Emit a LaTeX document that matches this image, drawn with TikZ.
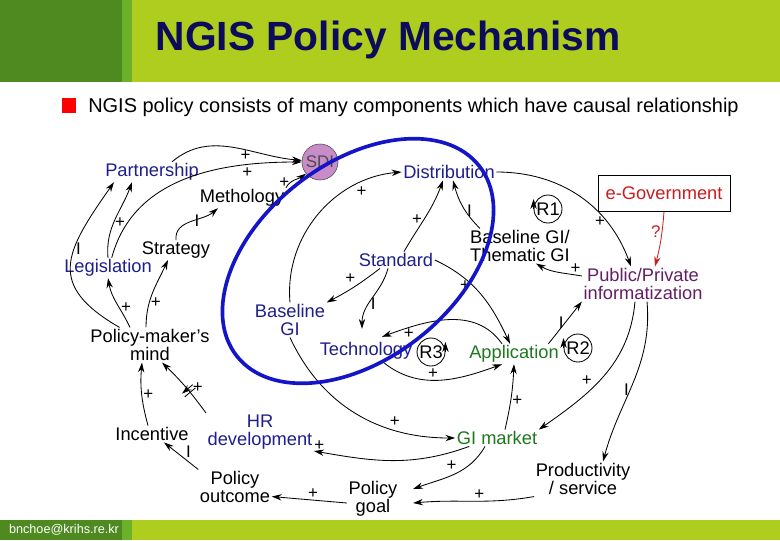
\documentclass[tikz,border=0pt]{standalone}
\usepackage{fontspec}
\setmainfont{Liberation Sans}
\usepackage{tikz}
\usetikzlibrary{arrows.meta,positioning,decorations.markings}
\usepackage{xcolor}
\definecolor{bandgreen}{RGB}{174,205,30}
\definecolor{darkgreen}{RGB}{78,138,31}
\definecolor{midgreen}{RGB}{108,177,42}
\definecolor{titlenavy}{RGB}{12,12,90}
\definecolor{varblue}{RGB}{30,30,140}
\definecolor{vargreen}{RGB}{30,120,30}
\definecolor{varpurple}{RGB}{100,30,100}
\definecolor{varred}{RGB}{200,30,30}
\definecolor{sdifill}{RGB}{200,140,200}
\definecolor{ringblue}{RGB}{20,20,200}

\begin{document}
\begin{tikzpicture}[
      x=0.025cm, y=-0.025cm,
      var/.style={font=\fontsize{13}{13}\selectfont, align=center, inner sep=1pt},
      link/.style={-{Stealth[length=7pt,width=4.5pt]}, line width=0.6pt},
      sign/.style={font=\fontsize{12}{12}\selectfont, inner sep=0.8pt},
      loopmark/.style={circle, draw, line width=0.6pt, inner sep=0pt, minimum size=0.7cm, font=\fontsize{13}{13}\selectfont},
      delay/.style={postaction={decorate}, decoration={markings, mark=at position #1 with {\draw[line width=0.6pt] (-1.5pt,-5pt) -- (-1.5pt,5pt) (1.5pt,-5pt) -- (1.5pt,5pt);}}}
    ]
    \useasboundingbox (0,0) rectangle (780,540);
    % Header and footer bands
    \fill[bandgreen] (0,0) rectangle (780,82);
    \fill[darkgreen] (0,0) rectangle (122,82);
    \fill[midgreen] (122,0) rectangle (132,82);
    \fill[bandgreen] (0,520) rectangle (780,540);
    \fill[darkgreen] (0,520) rectangle (122,540);
    \fill[midgreen] (122,520) rectangle (132,540);
    \node[font=\fontsize{29}{30}\selectfont\bfseries, text=titlenavy] (title) at (388,40) {NGIS Policy Mechanism};
    \node[font=\fontsize{9}{10}\selectfont, text=white] (mail) at (64,530) {bnchoe@krihs.re.kr};
    \fill[red] (62,98) rectangle (76,113);
    \node[font=\fontsize{14.2}{15}\selectfont, anchor=west, inner sep=0pt] (intro) at (88,107) {NGIS policy consists of many components which have causal relationship};

    % Variables
    \node[var, text=varblue] (partner) at (152,172) {Partnership};
    \node[circle, draw=black!70, fill=sdifill, minimum size=0.9cm, inner sep=0pt, font=\fontsize{12}{12}\selectfont, text=black!70] (sdi) at (320,162) {SDI};
    \node[var, text=varblue] (distrib) at (449,172) {Distribution};
    \node[var, text=varred, draw=black, line width=0.6pt, minimum width=3.3cm, minimum height=0.9cm] (egov) at (664,193) {e-Government};
    \node[var] (method) at (242,198) {Methology};
    \node[var] (basethem) at (520,246) {Baseline GI/\\Thematic GI};
    \node[var] (strategy) at (176,250) {Strategy};
    \node[var, text=varblue] (legis) at (108,268) {Legislation};
    \node[var, text=varblue] (standard) at (396,260) {Standard};
    \node[var, text=varpurple] (pubpriv) at (643,284) {Public/Private\\informatization};
    \node[var, text=varblue] (basegi) at (290,320) {Baseline\\GI};
    \node[var] (pmmind) at (150,345) {Policy-maker's\\mind};
    \node[var, text=varblue] (tech) at (366,351) {Technology};
    \node[var, text=vargreen] (appl) at (514,354) {Application};
    \node[var, text=varblue] (hrdev) at (260,432) {HR\\development};
    \node[var] (incent) at (152,434) {Incentive};
    \node[var, text=vargreen] (gimarket) at (497,438) {GI market};
    \node[var] (poutcome) at (235,487) {Policy\\outcome};
    \node[var] (product) at (583,479) {Productivity\\/ service};
    \node[var] (pgoal) at (373,499) {Policy\\goal};
    % Loop markers
    \node[loopmark] (rone) at (548,209) {R1};
    \node[loopmark] (rtwo) at (578,348) {R2};
    \node[loopmark] (rthree) at (431,352) {R3};
    \draw[link] (rone.west) -- ([yshift=0.25cm]rone.west);
    \draw[link] (rtwo.west) -- ([yshift=0.25cm]rtwo.west);
    \draw[link] (rthree.east) -- ([yshift=0.25cm]rthree.east);

    % Causal links
    \draw[link] (pmmind.150) to[out=150, in=235, looseness=1.5] node[sign, pos=0.62, right]{I} ([xshift=-0.95cm]partner.south);
    \draw[link] (legis.north) to[out=95, in=250] node[sign, pos=0.45, right]{+} ([xshift=-0.5cm]partner.south);
    \draw[link] ([xshift=0.5cm]partner.north) to[out=40, in=175] node[sign, pos=0.6, below]{+} (sdi.175);
    \draw[link] (legis.70) to[out=75, in=180] node[sign, pos=0.78, below=1pt]{+} (sdi.west);
    \draw[link] (method.north east) to[out=60, in=215] node[sign, pos=0.3, left]{+} (sdi.220);
    \draw[link] (strategy.north) to[out=95, in=220] node[sign, pos=0.55, right]{I} ([xshift=-0.6cm]method.south);
    \draw[link] ([xshift=-0.1cm]pmmind.north) to[out=90, in=245] node[sign, pos=0.35, right]{+} ([xshift=-0.2cm]strategy.south);
    \draw[link] ([xshift=-0.5cm]pmmind.north) to[out=115, in=-80] node[sign, pos=0.4, right]{+} (legis.south);
    \draw[link] ([xshift=-0.1cm]incent.north) to[out=105, in=-95] node[sign, pos=0.5, right]{+} ([xshift=-0.2cm]pmmind.south);
    \draw[link, delay=0.42] (hrdev.north west) to[bend right=5] node[sign, pos=0.35, above right]{+} ([xshift=0.3cm]pmmind.south);
    \draw[link] (poutcome.north west) to node[sign, pos=0.4, above right]{I} ([xshift=0.3cm]incent.south);
    \draw[link] ([yshift=-0.1cm]pgoal.west) to node[sign, pos=0.45, above]{+} ([yshift=0.2cm]poutcome.south east);
    \draw[link] ([xshift=0.35cm]gimarket.south west) to[out=200, in=-10] node[sign, pos=0.97, above]{+} (hrdev.south east);
    \draw[link] ([xshift=-0.3cm]gimarket.south) to[out=240, in=20] node[sign, pos=0.45, above left]{+} ([shift={(0.35cm,0.25cm)}]pgoal.east);
    \draw[link] (product.south west) to[out=190, in=5] node[sign, pos=0.45, above]{+} ([shift={(0.35cm,-0.1cm)}]pgoal.east);
    \draw[link] ([xshift=0.1cm]pubpriv.south) to[out=-85, in=75] node[sign, pos=0.55, left]{I} ([xshift=0.5cm]product.north);
    \draw[link] ([xshift=-0.2cm]pubpriv.south) to[out=-95, in=35] node[sign, pos=0.6, above left]{+} (gimarket.north east);
    \draw[link] ([xshift=-0.3cm]appl.north east) to node[sign, pos=0.5, left]{I} (pubpriv.south west);
    \draw[link] ([yshift=0.2cm]pubpriv.west) to[out=170, in=-30] node[sign, pos=0.12, above]{+} ([xshift=0.4cm]basethem.south);
    \draw[link, varred] (egov.south) to[bend left=5] node[sign, pos=0.35, left, text=varred]{?} ([xshift=0.3cm]pubpriv.north);
    \draw[link] (distrib.east) to[out=0, in=110] node[sign, pos=0.72, left]{+} ([xshift=-0.3cm]pubpriv.north);
    \draw[link] ([xshift=-1cm]basethem.north) to[out=135, in=-75] node[sign, pos=0.4, right]{I} ([xshift=0.1cm]distrib.south);
    \draw[link] ([xshift=0.2cm]standard.north) to[out=60, in=-110] node[sign, pos=0.45, left]{+} ([xshift=-0.15cm]distrib.south);
    \draw[link] (basegi.north) to[out=95, in=185] node[sign, pos=0.75, below right]{+} (distrib.west);
    \draw[link] ([xshift=-0.4cm]standard.south) to[bend left=5] node[sign, pos=0.45, above left]{+} (basegi.north east);
    \draw[link] ([xshift=-0.2cm]standard.south) to[out=-105, in=90] node[sign, pos=0.6, right]{I} ([shift={(-0.1cm,0.3cm)}]tech.north);
    \draw[link] (standard.east) to[out=-25, in=115] node[sign, pos=0.3, below]{+} ([xshift=-0.1cm]appl.north);
    \draw[link] ([xshift=-0.3cm]appl.north) to[out=125, in=20] node[sign, pos=0.8, below]{+} ([shift={(0.4cm,0.1cm)}]tech.north);
    \draw[link] ([xshift=0.4cm]tech.south) to[out=-40, in=200] node[sign, pos=0.45, above]{+} ([xshift=-0.3cm]appl.south);
    \draw[link] ([xshift=0.2cm]gimarket.north) to[bend right=5] node[sign, pos=0.45, right]{+} (appl.south);
    \draw[link] (basegi.south) to[out=-65, in=180] node[sign, pos=0.68, above right]{+} (gimarket.west);

    % Scope of the SDI
    \draw[ringblue, line width=2.6pt, rotate around={38:(358,261)}] (358,261) ellipse [x radius=3.85cm, y radius=2.45cm];
  \end{tikzpicture}
\end{document}
